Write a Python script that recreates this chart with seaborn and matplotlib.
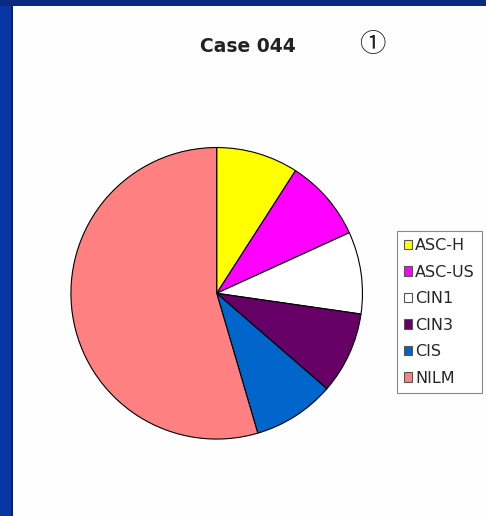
import matplotlib
matplotlib.use("Agg")
import matplotlib.pyplot as plt
import seaborn as sns
from matplotlib.patches import Patch, Rectangle

categories = ["ASC-H", "ASC-US", "CIN1", "CIN3", "CIS", "NILM"]
counts = [1, 1, 1, 1, 1, 6]
colors = ["#FFFF00", "#FF00FF", "#FFFFFF", "#660066", "#0066CC", "#FF8080"]
title_text = "Case 044"
mark_text = "①"

sns.set_theme(style="white")
plt.rcParams['font.family'] = ['DejaVu Sans']

W, H = 486, 516
fig = plt.figure(figsize=(W / 100, H / 100), dpi=100)
fig.patch.set_facecolor("#FEFEFE")

# blue frame (left and top)
fig.add_artist(Rectangle((0, 0), 13 / W, 1, transform=fig.transFigure,
                         facecolor="#0836A6", edgecolor="none", zorder=0))
fig.add_artist(Rectangle((11 / W, 0), 2 / W, 1 - 6 / H, transform=fig.transFigure,
                         facecolor="#06206A", edgecolor="none", zorder=0))
fig.add_artist(Rectangle((0, 1 - 6 / H), 1, 6 / H, transform=fig.transFigure,
                         facecolor="#0B2A7E", edgecolor="none", zorder=0))

# pie axes
cx, cy, r = 216.7, 293.3, 146.5
ax = fig.add_axes([(cx - r) / W, (H - cy - r) / H, 2 * r / W, 2 * r / H])
wedges, _ = ax.pie(counts, colors=colors, startangle=90, counterclock=False,
                   radius=1.0, wedgeprops=dict(edgecolor="black", linewidth=0.8))
ax.set_xlim(-1.005, 1.005)
ax.set_ylim(-1.005, 1.005)
ax.set_aspect("equal")
ax.axis("off")

fig.text(248 / W, 1 - 46 / H, title_text, ha="center", va="center",
         fontsize=13.5, fontweight="bold", color="#222222")
fig.text(372 / W, 1 - 45 / H, mark_text, ha="center", va="center",
         fontsize=19, color="#222222",
         family=['Noto Sans CJK JP', 'DejaVu Sans'])

handles = [Patch(facecolor=c, edgecolor="#555555", linewidth=0.8) for c in colors]
leg = fig.legend(handles, categories, loc="upper left",
                 bbox_to_anchor=(397 / W, 1 - 231 / H),
                 frameon=True, fancybox=False, framealpha=1,
                 edgecolor="#888888", fontsize=11.5,
                 handlelength=0.5, handleheight=0.5, handletextpad=0.2,
                 labelspacing=0.72, borderpad=0.45, borderaxespad=0)
leg.get_frame().set_linewidth(0.8)

fig.savefig("out.png", dpi=100, facecolor=fig.get_facecolor())
